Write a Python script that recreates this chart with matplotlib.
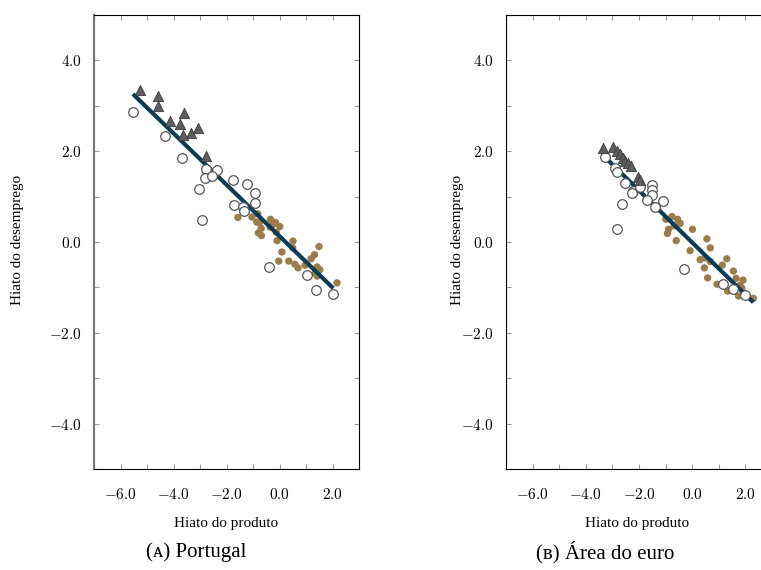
import matplotlib
matplotlib.use("Agg")
import matplotlib.pyplot as plt
from matplotlib.ticker import MultipleLocator, FixedLocator, FixedFormatter

# ---------------- data ----------------
# Portugal
pt_tri_x = [-5.25, -4.57, -4.60, -4.12, -3.60, -3.75, -3.35, -3.09, -3.64, -2.76]
pt_tri_y = [3.34, 3.22, 3.00, 2.67, 2.85, 2.60, 2.40, 2.51, 2.35, 1.89]

pt_open_x = [-5.53, -4.32, -3.68, -2.76, -2.34, -2.81, -2.53, -3.02, -2.91, -1.76,
             -1.23, -0.93, -1.72, -1.36, -1.34, -0.94, -0.41, 1.04, 1.38, 2.02]
pt_open_y = [2.87, 2.33, 1.86, 1.61, 1.59, 1.41, 1.46, 1.17, 0.48, 1.37,
             1.27, 1.08, 0.81, 0.78, 0.68, 0.85, -0.54, -0.73, -1.05, -1.15]

pt_fill_x = [-1.57, -1.04, -0.82, -0.76, -0.86, -0.69, -0.80, -0.68, -0.34, -0.15,
             -0.27, 0.01, -0.36, -0.12, -0.09, 0.09, -0.03, 0.35, 0.51, 0.50,
             0.58, 0.70, 0.97, 1.19, 1.32, 1.49, 1.42, 1.52, 1.35, 1.42, 2.17]
pt_fill_y = [0.54, 0.55, 0.62, 0.43, 0.44, 0.30, 0.20, 0.14, 0.50, 0.43,
             0.37, 0.34, 0.33, 0.21, 0.03, -0.22, -0.42, -0.42, 0.02, -0.13,
             -0.49, -0.57, -0.51, -0.37, -0.28, -0.10, -0.55, -0.61, -0.68, -0.75, -0.90]

pt_line_x = [-5.53, 2.03]
pt_line_y = [3.26, -1.02]

# Euro area
ea_tri_x = [-3.37, -2.96, -2.81, -2.71, -2.61, -2.51, -2.43, -2.31, -2.02, -1.95]
ea_tri_y = [2.06, 2.09, 2.01, 1.93, 1.86, 1.79, 1.73, 1.67, 1.44, 1.37]

ea_open_x = [-3.27, -2.89, -2.83, -2.52, -2.24, -2.27, -1.95, -1.52, -1.52, -1.52,
             -1.70, -1.39, -2.64, -2.81, -1.08, -0.30, 1.15, 1.55, 1.99]
ea_open_y = [1.88, 1.62, 1.55, 1.31, 1.12, 1.07, 1.22, 1.26, 1.15, 1.04,
             0.93, 0.77, 0.83, 0.28, 0.90, -0.60, -0.93, -1.04, -1.17]

ea_fill_x = [-0.99, -0.76, -0.55, -0.45, -0.68, -0.89, -0.93, -0.60, 0.01, -0.08,
             0.55, 0.68, 0.30, 0.49, 0.68, 0.46, 0.58, 1.30, 1.13, 1.55,
             1.65, 1.91, 1.80, 0.93, 1.33, 1.74, 1.87, 2.30]
ea_fill_y = [0.50, 0.56, 0.50, 0.41, 0.36, 0.28, 0.19, 0.03, 0.28, -0.19,
             0.07, -0.13, -0.39, -0.35, -0.43, -0.57, -0.79, -0.37, -0.51, -0.64,
             -0.80, -0.84, -0.95, -0.93, -1.08, -1.19, -1.02, -1.24]

ea_line_x = [-3.30, 2.30]
ea_line_y = [1.88, -1.33]

xtick_vals = [-6, -4, -2, 0, 2]
xtick_labels = [r'$-6.0$', r'$-4.0$', r'$-2.0$', r'$0.0$', r'$2.0$']
ytick_vals = [-4, -2, 0, 2, 4]
ytick_labels = [r'$-4.0$', r'$-2.0$', r'$0.0$', r'$2.0$', r'$4.0$']

xlabel = "Hiato do produto"
ylabel = "Hiato do desemprego"
captions = ["(\u1d00) Portugal", "(\u0299) Área do euro"]

# ---------------- style ----------------
plt.rcParams['mathtext.fontset'] = 'cm'
serif = ['Liberation Serif', 'DejaVu Serif', 'DejaVu Sans']

W, H = 761, 570
fig = plt.figure(figsize=(W / 100, H / 100), dpi=100)

line_col = '#0b3c55'
fill_col = '#9a7d4b'
tri_col = '#5e5e5e'
open_edge = '#555555'

ax1 = fig.add_axes([94 / W, 101 / H, 265 / W, 454 / H])
ax2 = fig.add_axes([506 / W, 101 / H, 266 / W, 454 / H])

panels = [
    (ax1, pt_tri_x, pt_tri_y, pt_open_x, pt_open_y, pt_fill_x, pt_fill_y, pt_line_x, pt_line_y),
    (ax2, ea_tri_x, ea_tri_y, ea_open_x, ea_open_y, ea_fill_x, ea_fill_y, ea_line_x, ea_line_y),
]

for ax, tx, ty, ox, oy, fx, fy, lx, ly in panels:
    ax.scatter(fx, fy, s=28, color=fill_col, edgecolors='none', zorder=2)
    ax.plot(lx, ly, color=line_col, lw=3.0, solid_capstyle='butt', zorder=3)
    ax.scatter(ox, oy, s=48, facecolors='white', edgecolors=open_edge, linewidths=0.9, zorder=4)
    ax.scatter(tx, ty, s=55, marker='^', color=tri_col, edgecolors='#3a3a3a', linewidths=0.6, zorder=5)

    ax.set_xlim(-7, 3)
    ax.set_ylim(-5, 5)
    ax.xaxis.set_major_locator(FixedLocator(xtick_vals))
    ax.xaxis.set_major_formatter(FixedFormatter(xtick_labels))
    ax.yaxis.set_major_locator(FixedLocator(ytick_vals))
    ax.yaxis.set_major_formatter(FixedFormatter(ytick_labels))
    ax.xaxis.set_minor_locator(MultipleLocator(1))
    ax.yaxis.set_minor_locator(MultipleLocator(1))
    ax.tick_params(which='both', direction='in', top=True, right=True,
                   length=3.5, width=0.8, color='#999999')
    ax.tick_params(axis='x', which='major', pad=13, labelsize=11)
    ax.tick_params(axis='y', which='major', pad=9, labelsize=11)
    for sp in ax.spines.values():
        sp.set_linewidth(0.8)
        sp.set_color('black')

ax1.spines['left'].set_color('#777777')
ax1.spines['left'].set_linewidth(1.6)

# axis labels
fig.text(226 / W, 1 - 524 / H, xlabel, ha='center', va='center', fontsize=11, family=serif)
fig.text(637 / W, 1 - 524 / H, xlabel, ha='center', va='center', fontsize=11, family=serif)
fig.text(18 / W, 1 - 240 / H, ylabel, ha='center', va='center', rotation=90, fontsize=11, family=serif)
fig.text(458 / W, 1 - 240 / H, ylabel, ha='center', va='center', rotation=90, fontsize=11, family=serif)

# captions
fig.text(196 / W, 1 - 552 / H, captions[0], ha='center', va='center', fontsize=15, family=serif)
fig.text(605 / W, 1 - 552 / H, captions[1], ha='center', va='center', fontsize=15, family=serif)

fig.savefig('out.png', dpi=100)
